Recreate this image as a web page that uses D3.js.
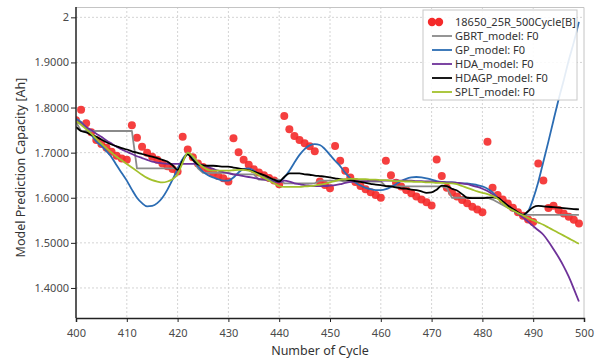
<!DOCTYPE html>
<html>
<head>
<meta charset="utf-8">
<script src="https://cdn.jsdelivr.net/npm/d3@7"></script>
<style>
  body { margin: 0; background: #fff; }
  svg { display: block; font-family: "Noto Sans", "DejaVu Sans", sans-serif; }
</style>
</head>
<body>
<div id="chart"></div>
<script>
// cycle numbers (x) for every measured point and model value
const cycles = d3.range(400, 500);

const measured = [
  1.772, 1.795, 1.765, 1.745, 1.728, 1.719, 1.711, 1.702, 1.693, 1.687,
  1.684, 1.761, 1.733, 1.713, 1.700, 1.691, 1.684, 1.676, 1.670, 1.664,
  1.658, 1.735, 1.707, 1.690, 1.676, 1.668, 1.660, 1.655, 1.648, 1.643,
  1.636, 1.732, 1.701, 1.684, 1.673, 1.663, 1.656, 1.650, 1.644, 1.638,
  1.630, 1.781, 1.752, 1.737, 1.728, 1.721, 1.714, 1.703, 1.636, 1.628,
  1.621, 1.715, 1.682, 1.660, 1.645, 1.635, 1.626, 1.619, 1.612, 1.606,
  1.600, 1.682, 1.650, 1.633, 1.625, 1.617, 1.610, 1.603, 1.596, 1.590,
  1.583, 1.685, 1.648, 1.622, 1.612, 1.603, 1.595, 1.588, 1.580, 1.574,
  1.568, 1.724, 1.622, 1.606, 1.596, 1.587, 1.578, 1.568, 1.560, 1.552,
  1.546, 1.676, 1.638, 1.577, 1.582, 1.573, 1.565, 1.558, 1.551, 1.543
];

const gbrt = [
  1.768, 1.748, 1.748, 1.748, 1.748, 1.748, 1.748, 1.748, 1.748, 1.748,
  1.748, 1.748, 1.665, 1.665, 1.665, 1.665, 1.665, 1.665, 1.665, 1.665,
  1.665, 1.685, 1.700, 1.685, 1.665, 1.655, 1.655, 1.655, 1.655, 1.655,
  1.655, 1.652, 1.652, 1.652, 1.652, 1.652, 1.640, 1.640, 1.640, 1.640,
  1.640, 1.632, 1.632, 1.632, 1.632, 1.632, 1.632, 1.632, 1.638, 1.638,
  1.638, 1.638, 1.638, 1.636, 1.636, 1.636, 1.636, 1.636, 1.636, 1.636,
  1.636, 1.625, 1.625, 1.625, 1.625, 1.625, 1.625, 1.625, 1.625, 1.625,
  1.625, 1.625, 1.625, 1.622, 1.600, 1.600, 1.600, 1.600, 1.600, 1.600,
  1.600, 1.600, 1.596, 1.590, 1.584, 1.578, 1.572, 1.566, 1.562, 1.562,
  1.562, 1.562, 1.562, 1.562, 1.562, 1.562, 1.562, 1.562, 1.562, 1.562
];

const gp = [
  1.775, 1.768, 1.755, 1.740, 1.725, 1.715, 1.703, 1.690, 1.672, 1.655,
  1.638, 1.618, 1.600, 1.588, 1.581, 1.582, 1.588, 1.600, 1.618, 1.640,
  1.664, 1.686, 1.698, 1.688, 1.670, 1.658, 1.650, 1.645, 1.641, 1.638,
  1.638, 1.645, 1.656, 1.664, 1.665, 1.660, 1.652, 1.645, 1.640, 1.637,
  1.637, 1.645, 1.660, 1.678, 1.695, 1.708, 1.716, 1.719, 1.717, 1.708,
  1.695, 1.682, 1.670, 1.655, 1.643, 1.634, 1.627, 1.622, 1.619, 1.617,
  1.617, 1.619, 1.624, 1.630, 1.637, 1.642, 1.645, 1.646, 1.645, 1.643,
  1.640, 1.637, 1.635, 1.634, 1.634, 1.633, 1.632, 1.632, 1.630, 1.628,
  1.625, 1.620, 1.612, 1.600, 1.590, 1.580, 1.572, 1.566, 1.562, 1.570,
  1.598, 1.635, 1.680, 1.725, 1.772, 1.818, 1.860, 1.905, 1.945, 1.990
];

const hda = [
  1.772, 1.765, 1.757, 1.750, 1.742, 1.735, 1.727, 1.720, 1.713, 1.707,
  1.702, 1.697, 1.692, 1.688, 1.684, 1.680, 1.678, 1.676, 1.675, 1.675,
  1.675, 1.675, 1.675, 1.675, 1.675, 1.672, 1.668, 1.664, 1.660, 1.657,
  1.654, 1.652, 1.650, 1.648, 1.646, 1.644, 1.642, 1.640, 1.638, 1.636,
  1.634, 1.638, 1.636, 1.632, 1.630, 1.628, 1.627, 1.626, 1.626, 1.626,
  1.627, 1.628, 1.630, 1.633, 1.635, 1.636, 1.637, 1.637, 1.638, 1.638,
  1.638, 1.638, 1.638, 1.638, 1.638, 1.638, 1.638, 1.637, 1.637, 1.636,
  1.636, 1.635, 1.635, 1.634, 1.634, 1.633, 1.632, 1.630, 1.627, 1.624,
  1.620, 1.615, 1.608, 1.600, 1.591, 1.582, 1.573, 1.565, 1.556, 1.547,
  1.537, 1.528, 1.518, 1.503, 1.486, 1.468, 1.448, 1.425, 1.398, 1.370
];

const hdagp = [
  1.757, 1.748, 1.745, 1.740, 1.735, 1.729, 1.723, 1.718, 1.714, 1.710,
  1.707, 1.703, 1.700, 1.697, 1.694, 1.691, 1.688, 1.684, 1.680, 1.672,
  1.662, 1.682, 1.696, 1.684, 1.674, 1.672, 1.671, 1.671, 1.670, 1.669,
  1.669, 1.667, 1.665, 1.663, 1.661, 1.658, 1.654, 1.650, 1.645, 1.640,
  1.636, 1.646, 1.654, 1.654, 1.654, 1.652, 1.651, 1.649, 1.648, 1.647,
  1.645, 1.643, 1.641, 1.640, 1.639, 1.637, 1.635, 1.633, 1.631, 1.629,
  1.628, 1.626, 1.625, 1.623, 1.621, 1.620, 1.618, 1.617, 1.614, 1.611,
  1.612, 1.618, 1.627, 1.626, 1.620, 1.616, 1.608, 1.600, 1.599, 1.599,
  1.599, 1.600, 1.601, 1.600, 1.592, 1.583, 1.575, 1.568, 1.562, 1.570,
  1.579, 1.582, 1.581, 1.580, 1.579, 1.578, 1.577, 1.576, 1.575, 1.574
];

const splt = [
  1.770, 1.762, 1.752, 1.742, 1.731, 1.720, 1.710, 1.700, 1.691, 1.683,
  1.675, 1.667, 1.659, 1.651, 1.644, 1.639, 1.636, 1.634, 1.636, 1.641,
  1.652, 1.678, 1.700, 1.692, 1.678, 1.668, 1.662, 1.660, 1.660, 1.660,
  1.660, 1.661, 1.662, 1.662, 1.660, 1.656, 1.650, 1.644, 1.638, 1.632,
  1.626, 1.624, 1.624, 1.624, 1.624, 1.625, 1.626, 1.627, 1.629, 1.631,
  1.634, 1.637, 1.640, 1.641, 1.642, 1.642, 1.641, 1.641, 1.640, 1.640,
  1.639, 1.639, 1.638, 1.637, 1.637, 1.636, 1.636, 1.635, 1.635, 1.634,
  1.634, 1.633, 1.633, 1.632, 1.632, 1.630, 1.626, 1.622, 1.618, 1.614,
  1.611, 1.608, 1.604, 1.598, 1.588, 1.578, 1.572, 1.566, 1.561, 1.555,
  1.550, 1.545, 1.540, 1.534, 1.528, 1.522, 1.516, 1.510, 1.504, 1.498
];

const measuredName = "18650_25R_500Cycle[B]";
const modelNames = ["GBRT_model: F0", "GP_model: F0", "HDA_model: F0", "HDAGP_model: F0", "SPLT_model: F0"];
const modelValues = [gbrt, gp, hda, hdagp, splt];
const modelColors = ["#8a8a8a", "#2b6cb3", "#6e3299", "#000000", "#a3c12c"];

const xTicks = [400, 410, 420, 430, 440, 450, 460, 470, 480, 490, 500];
const yTicks = [1.4, 1.5, 1.6, 1.7, 1.8, 1.9, 2.0];
const yTickLabels = ["1.4000", "1.5000", "1.6000", "1.7000", "1.8000", "1.9000", "2"];

const W = 600, H = 364;
const margin = {top: 7, right: 16, bottom: 46, left: 76};
const width = W - margin.left - margin.right;
const height = H - margin.top - margin.bottom;

const x = d3.scaleLinear().domain([400, 500]).range([0, width]);
const y = d3.scaleLinear().domain([1.3334, 2.0229]).range([height, 0]);

const svg = d3.select("#chart").append("svg")
    .attr("width", W)
    .attr("height", H);

svg.append("rect").attr("width", W).attr("height", H).attr("fill", "#fff");

const g = svg.append("g")
    .attr("transform", "translate(" + margin.left + "," + margin.top + ")");

// dotted grid
g.append("g").selectAll("line")
    .data(xTicks.slice(1, -1))
  .enter().append("line")
    .attr("x1", d => x(d)).attr("x2", d => x(d))
    .attr("y1", 0).attr("y2", height)
    .attr("stroke", "#d4d4d4").attr("stroke-dasharray", "2,2");

g.append("g").selectAll("line")
    .data(yTicks)
  .enter().append("line")
    .attr("x1", 0).attr("x2", width)
    .attr("y1", d => y(d)).attr("y2", d => y(d))
    .attr("stroke", "#d4d4d4").attr("stroke-dasharray", "2,2");

// light frame on top and right
g.append("path")
    .attr("d", "M0,0.5H" + width + "V" + height)
    .attr("fill", "none")
    .attr("stroke", "#c4c4c4");

g.append("clipPath").attr("id", "plotclip")
  .append("rect").attr("width", width).attr("height", height);

const plot = g.append("g").attr("clip-path", "url(#plotclip)");

// measured points
plot.selectAll(".dot")
    .data(cycles.map((c, i) => [c, measured[i]]))
  .enter().append("circle")
    .attr("class", "dot")
    .attr("cx", d => x(d[0]))
    .attr("cy", d => y(d[1]))
    .attr("r", 4)
    .attr("fill", "#f42a2a")
    .attr("fill-opacity", 0.9);

// model lines
modelValues.forEach(function(vals, k) {
  const line = d3.line()
      .x((d, i) => x(cycles[i]))
      .y(d => y(d))
      .curve(k === 0 ? d3.curveLinear : d3.curveMonotoneX);
  plot.append("path")
      .datum(vals)
      .attr("fill", "none")
      .attr("stroke", modelColors[k])
      .attr("stroke-width", 1.8)
      .attr("stroke-linejoin", "round")
      .attr("d", line);
});

// axes
const xAxis = g.append("g")
    .attr("transform", "translate(0," + height + ")")
    .call(d3.axisBottom(x).tickValues(xTicks).tickFormat(d3.format("d")).tickSizeOuter(0).tickSize(4));

const yAxis = g.append("g")
    .call(d3.axisLeft(y).tickValues(yTicks).tickFormat((d, i) => yTickLabels[i]).tickSizeOuter(0).tickSize(5));

[xAxis, yAxis].forEach(function(ax) {
  ax.select(".domain").attr("stroke", "#222").attr("stroke-width", 1.5);
  ax.selectAll(".tick line").attr("stroke", "#222");
  ax.selectAll(".tick text")
      .attr("fill", "#4a4a4a")
      .style("font-size", "11px")
      .style("font-family", "'Noto Sans', sans-serif");
});
yAxis.select(".domain").attr("d", "M0," + height + "V0");
xAxis.selectAll(".tick text").attr("dy", "1.05em");
yAxis.selectAll(".tick text").attr("x", -7);

// axis titles
svg.append("text")
    .attr("x", margin.left + width / 2 - 10)
    .attr("y", 355)
    .attr("text-anchor", "middle")
    .attr("fill", "#333")
    .style("font-size", "12.5px")
    .text("Number of Cycle");

svg.append("text")
    .attr("transform", "translate(25," + (margin.top + height / 2 + 5) + ") rotate(-90)")
    .attr("text-anchor", "middle")
    .attr("fill", "#333")
    .style("font-size", "12.5px")
    .text("Model Prediction Capacity [Ah]");

// legend
const legend = svg.append("g").attr("transform", "translate(423,10)");
legend.append("rect")
    .attr("width", 154).attr("height", 90)
    .attr("fill", "#fff").attr("fill-opacity", 0.88)
    .attr("stroke", "#c8c8c8");

const rowY = [12, 26, 40, 54, 68, 82];
legend.selectAll(".ldot")
    .data([9, 16])
  .enter().append("circle")
    .attr("cx", d => d).attr("cy", rowY[0])
    .attr("r", 4.2)
    .attr("fill", "#f42a2a");
legend.append("text")
    .attr("x", 32).attr("y", rowY[0] + 4)
    .attr("fill", "#333").style("font-size", "11px")
    .text(measuredName);

modelNames.forEach(function(name, k) {
  const yy = rowY[k + 1];
  legend.append("line")
      .attr("x1", 9).attr("x2", 29)
      .attr("y1", yy).attr("y2", yy)
      .attr("stroke", modelColors[k]).attr("stroke-width", 1.8);
  legend.append("text")
      .attr("x", 32).attr("y", yy + 4)
      .attr("fill", "#333").style("font-size", "11px")
      .text(name);
});
</script>
</body>
</html>
